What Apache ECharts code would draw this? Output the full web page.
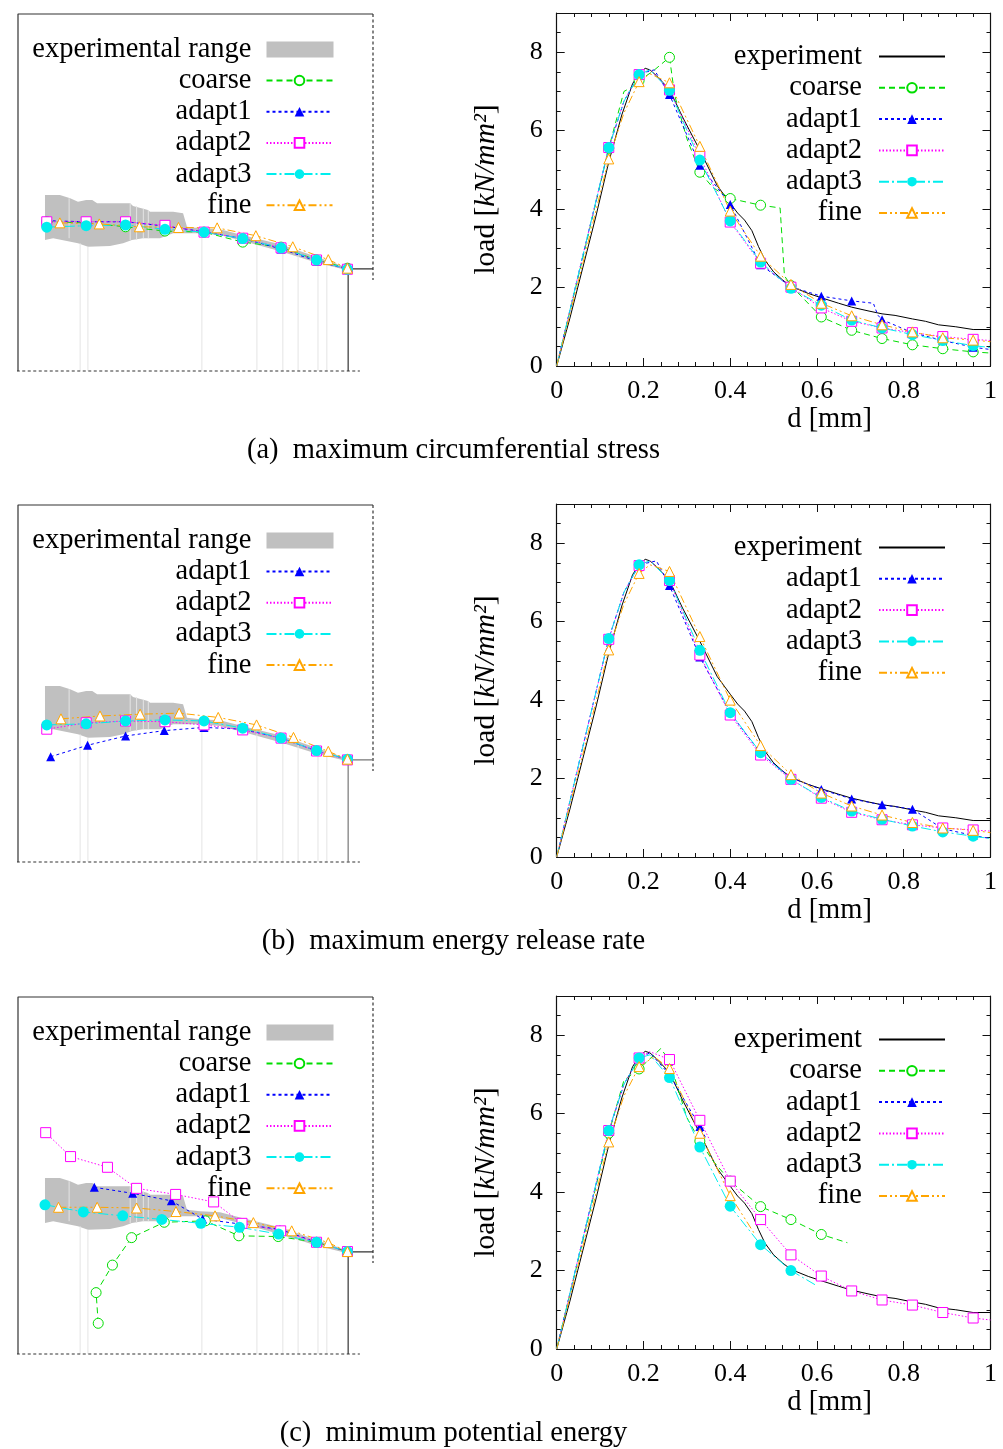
<!DOCTYPE html>
<html><head><meta charset="utf-8">
<script src="https://cdn.jsdelivr.net/npm/echarts@6/dist/echarts.min.js"></script>
<style>html,body{margin:0;padding:0;background:#fff}#c{width:1003px;height:1449px}</style>
</head><body><div id="c"></div><script>
// ---------------- DATA ----------------
// load-displacement: marker positions (d in mm)
const markD = [0.12,0.19,0.26,0.33,0.40,0.47,0.54,0.61,0.68,0.75,0.82,0.89,0.96];
const expD = [0,0.03,0.06,0.09,0.12,0.15,0.175,0.19,0.204,0.215,0.23,0.26,0.29,0.33,0.37,0.40,0.417,0.433,0.45,0.465,0.48,0.50,0.52,0.54,0.58,0.61,0.65,0.68,0.72,0.75,0.78,0.82,0.85,0.88,0.92,0.96,1.0];
const expLoad = [0,1.2,2.5,3.8,5.2,6.4,7.2,7.45,7.59,7.55,7.4,7.05,6.35,5.5,4.6,4.15,3.9,3.72,3.45,3.05,2.7,2.4,2.2,2.03,1.85,1.74,1.6,1.5,1.4,1.33,1.29,1.2,1.14,1.05,1.0,0.93,0.93];
const dStd = [0,0.06,0.12,0.155,0.19,0.215,0.26,0.33,0.40,0.47,0.54,0.61,0.68,0.75,0.82,0.89,0.96,1.0];
// (a)
const aCoarseD = [0,0.06,0.12,0.155,0.175,0.19,0.22,0.26,0.272,0.30,0.33,0.36,0.40,0.47,0.515,0.525,0.54,0.61,0.68,0.75,0.82,0.89,0.96,1.0];
const aCoarseLoad = [0,2.75,5.55,7.0,7.12,7.28,7.5,7.87,6.9,5.8,4.94,4.55,4.27,4.1,4.03,2.3,2.05,1.25,0.91,0.7,0.54,0.44,0.36,0.33];
const aAdapt1D = [0,0.06,0.12,0.155,0.19,0.225,0.26,0.33,0.40,0.47,0.54,0.61,0.68,0.73,0.74,0.75,0.82,0.89,0.96,1.0];
const aAdapt1Load = [0,2.8,5.55,6.75,7.45,7.55,6.92,5.12,4.12,2.58,2.02,1.78,1.66,1.6,1.3,1.18,0.85,0.65,0.48,0.42];
const aAdapt2Load = [0,2.8,5.57,6.75,7.43,7.55,7.04,5.35,3.67,2.62,2.01,1.48,1.14,0.97,0.85,0.75,0.68,0.65];
const aAdapt3Load = [0,2.8,5.57,6.75,7.43,7.55,7.03,5.25,3.7,2.65,1.98,1.55,1.17,0.97,0.8,0.65,0.52,0.47];
const aFineLoad = [0,2.6,5.28,6.45,7.25,7.45,7.22,5.6,3.95,2.8,2.08,1.6,1.28,1.05,0.87,0.72,0.66,0.62];
// (b)
const bAdapt1D = [0,0.06,0.12,0.155,0.19,0.23,0.26,0.33,0.40,0.47,0.54,0.61,0.68,0.75,0.82,0.89,0.96,1.0];
const bAdapt1Load = [0,2.8,5.57,6.75,7.45,7.55,6.92,5.1,3.67,2.65,2.02,1.72,1.48,1.33,1.22,0.72,0.55,0.47];
const bAdapt2Load = [0,2.8,5.55,6.75,7.43,7.55,7.05,5.15,3.62,2.6,1.98,1.5,1.14,0.95,0.82,0.74,0.69,0.66];
const bAdapt3Load = [0,2.8,5.57,6.75,7.45,7.55,7.05,5.27,3.68,2.66,1.98,1.52,1.17,0.96,0.79,0.64,0.53,0.47];
const bFineLoad = [0,2.6,5.28,6.45,7.23,7.45,7.28,5.62,4.0,2.84,2.1,1.63,1.3,1.07,0.88,0.74,0.68,0.62];
// (c)
const cCoarseD = [0,0.06,0.12,0.155,0.19,0.215,0.24,0.26,0.30,0.33,0.36,0.40,0.47,0.54,0.61,0.67];
const cCoarseLoad = [0,2.75,5.5,6.85,7.14,7.4,7.66,7.35,5.9,5.3,4.8,4.28,3.63,3.3,2.92,2.71];
const cAdapt1D = [0,0.06,0.12,0.155,0.19,0.215,0.26,0.33,0.345];
const cAdapt1Load = [0,2.8,5.55,6.75,7.42,7.55,7.0,5.67,5.35];
const cAdapt2Load = [0,2.8,5.57,6.75,7.42,7.58,7.38,5.83,4.28,3.3,2.4,1.86,1.48,1.25,1.12,0.93,0.79,0.74];
const cAdapt3D = [0,0.06,0.12,0.155,0.19,0.215,0.26,0.33,0.40,0.47,0.54,0.60];
const cAdapt3Load = [0,2.8,5.57,6.75,7.42,7.5,6.92,5.15,3.64,2.66,2.0,1.61];
const cFineD = [0,0.06,0.12,0.155,0.19,0.225,0.26,0.33,0.40,0.457];
const cFineLoad = [0,2.6,5.28,6.45,7.2,7.45,7.15,5.5,3.91,2.92];

// crack paths (specimen units, box 0..100 x 0..100)
const crackX = [8.1,19.2,30.3,41.4,52.4,63.3,74.1,84.1,92.8];
const aCrackFineX = [11.8,22.9,34.2,45.2,56.1,67.0,77.4,87.4,92.8];
const aCrackCoarseY = [41.8,41.5,40.4,39.2,38.9,36.1,34.7,31.1,28.8];
const aCrackAdapt1Y = [42.1,41.8,41.8,40.6,39.0,37.1,34.2,30.8,28.5];
const aCrackAdapt2Y = [41.8,41.8,41.8,40.8,38.9,37.2,34.5,31.1,28.5];
const aCrackAdapt3Y = [40.3,40.7,40.9,39.7,38.9,37.1,34.5,31.1,28.5];
const aCrackFineY = [41.5,41.2,40.4,40.2,40.1,37.9,34.8,31.2,28.8];
const bCrackAdapt1X = [9.2,19.6,30.3,41.2,52.4,63.3,74.1,84.1,92.8];
const bCrackAdapt1Y = [29.5,32.7,35.3,36.8,37.7,37.2,34.7,31.1,28.8];
const bCrackAdapt2Y = [37.2,39.0,39.5,39.3,38.4,37.0,34.7,31.1,28.6];
const bCrackAdapt3Y = [38.4,38.7,39.5,39.8,39.5,37.5,34.7,31.2,28.8];
const bCrackFineX = [12.1,23.1,34.4,45.4,56.4,67.2,77.6,87.4,92.8];
const bCrackFineY = [40.1,40.9,41.4,41.7,40.5,38.4,34.9,31.0,28.8];
const cCrackCoarseX = [22.6,22.0,26.6,32.0,41.2,52.8,62.2,73.3,84.1,92.8];
const cCrackCoarseY = [8.6,17.2,24.9,32.6,36.9,37.3,33.1,32.9,31.3,28.7];
const cCrackAdapt1X = [21.5,32.3,43.2,52.0,62.7,73.8,84.1,92.8];
const cCrackAdapt1Y = [46.7,45.0,42.9,37.8,36.4,34.9,31.3,28.7];
const cCrackAdapt2X = [7.8,14.8,25.2,33.4,44.4,55.1,63.1,74.0,84.1,92.8];
const cCrackAdapt2Y = [62.0,55.3,52.3,46.4,44.7,42.6,36.6,34.5,31.3,28.7];
const cCrackAdapt3X = [7.6,18.4,29.5,40.5,51.5,62.4,73.4,84.1,92.8];
const cCrackAdapt3Y = [41.8,39.8,38.7,37.7,36.6,35.5,33.6,31.3,28.7];
const cCrackFineX = [11.4,22.3,33.4,44.5,55.5,66.3,77.1,87.4,92.8];
const cCrackFineY = [41.1,41.1,40.9,39.9,38.7,36.8,34.5,31.2,28.7];

// experimental range band
const bandTopX = [7.6,11.8,14.7,16.9,19.2,20.9,22.3,31.6,32.4,36.6,37.2,43.7,46.5,47.6,51.3,56.9,63.4,74.1,84.2,92.8];
const bandTopY = [49.3,49.3,48.4,47.4,47.9,47.9,47.0,47.0,46.2,45.1,44.6,44.6,44.2,40.4,40.0,39.7,38.0,35.4,31.9,29.0];
const bandBotX = [92.8,84.2,74.1,63.4,56.9,51.3,43.7,40.0,35.2,32.1,29.6,25.9,19.7,16.9,9.9,7.6];
const bandBotY = [28.2,30.3,33.5,36.4,38.1,38.6,38.6,37.2,37.2,36.7,35.8,35.0,34.8,35.8,37.2,36.7];
const faintX = [14.4,17.5,19.7,31.6,33.4,35.3,36.7,51.8,67.3,74.6,78.9,84.5,87.0];
const faintLo = [37.2,0,0,36.7,36.7,37.2,37.2,0,0,0,0,0,0];
const faintHi = [48.4,35.8,34.8,47.0,46.2,45.5,45.1,38.6,37.0,34.2,33.0,31.0,30.4];

// specimen outline
const frameX = [0,0,100], frameY = [0,100,100];
const rightDotX = [100,100], rightDotY = [100,25.5];
const bottomDotX = [-5,96.3], bottomDotY = [0,0];
const notchX = [93,93,100], notchY = [0,28.6,28.6];

const captions = ['(a)  maximum circumferential stress','(b)  maximum energy release rate','(c)  minimum potential energy'];

// ---------------- LAYOUT / STYLE ----------------
const FONT = 'Liberation Serif';
const rowOff = [0, 491, 983];
const STY = {
  coarse: {color:'#00dd00', dash:[6,4], symbol:'circle', open:true, size:10},
  adapt1: {color:'#0000ff', dash:[3,3], symbol:'triangle', open:false, size:9},
  adapt2: {color:'#ff00ff', dash:[1.5,2], symbol:'rect', open:true, size:10},
  adapt3: {color:'#00eeee', dash:[10,3,2,3], symbol:'circle', open:false, size:11},
  fine:   {color:'#ffa500', dash:[8,3,2,3,2,3], symbol:'triangle', open:true, size:10}
};
const zip = (a,b) => a.map((v,i)=>[v,b[i]]);
const curve = (d,l) => d.map((x,i)=> markD.some(m=>Math.abs(m-x)<1e-9) ? [x,l[i]] : {value:[x,l[i]], symbol:'none'});

const grid=[], xAxis=[], yAxis=[], series=[], legend=[], graphic=[];
const tickStyle = {color:'#111', width:1};

function styledLine(name, data, xi, yi){
  const s = STY[name];
  return {type:'line', name, data, xAxisIndex:xi, yAxisIndex:yi, symbol:s.symbol, symbolSize:s.size,
    showSymbol:true, lineStyle:{color:s.color, width:1, type:s.dash},
    itemStyle: s.open ? {color:'#fff', borderColor:s.color, borderWidth:1} : {color:s.color, borderWidth:0},
    emphasis:{disabled:true}, silent:true, z:3, animation:false};
}
function plain(name, data, xi, yi, dash, color){
  return {type:'line', name, data, xAxisIndex:xi, yAxisIndex:yi, symbol:'none', clip:false, silent:true,
    lineStyle:{color:color||'#333', width:1.2, type:dash||'solid'}, z:2, animation:false};
}
const TXT = 28.5;
const legendText = {fontFamily:FONT, fontSize:TXT, color:'#000', lineHeight:28, padding:[0,10,0,0]};

const crackData = [
  {coarse:zip(crackX,aCrackCoarseY), adapt1:zip(crackX,aCrackAdapt1Y), adapt2:zip(crackX,aCrackAdapt2Y), adapt3:zip(crackX,aCrackAdapt3Y), fine:zip(aCrackFineX,aCrackFineY)},
  {adapt1:zip(bCrackAdapt1X,bCrackAdapt1Y), adapt2:zip(crackX,bCrackAdapt2Y), adapt3:zip(crackX,bCrackAdapt3Y), fine:zip(bCrackFineX,bCrackFineY)},
  {coarse:zip(cCrackCoarseX,cCrackCoarseY), adapt1:zip(cCrackAdapt1X,cCrackAdapt1Y), adapt2:zip(cCrackAdapt2X,cCrackAdapt2Y), adapt3:zip(cCrackAdapt3X,cCrackAdapt3Y), fine:zip(cCrackFineX,cCrackFineY)}
];
const loadData = [
  {coarse:curve(aCoarseD,aCoarseLoad), adapt1:curve(aAdapt1D,aAdapt1Load), adapt2:curve(dStd,aAdapt2Load), adapt3:curve(dStd,aAdapt3Load), fine:curve(dStd,aFineLoad)},
  {adapt1:curve(bAdapt1D,bAdapt1Load), adapt2:curve(dStd,bAdapt2Load), adapt3:curve(dStd,bAdapt3Load), fine:curve(dStd,bFineLoad)},
  {coarse:curve(cCoarseD,cCoarseLoad), adapt1:curve(cAdapt1D,cAdapt1Load), adapt2:curve(dStd,cAdapt2Load), adapt3:curve(cAdapt3D,cAdapt3Load), fine:curve(cFineD,cFineLoad)}
];

rowOff.forEach((off, r) => {
  // ----- left: crack path panel -----
  const gL = grid.length;
  grid.push({left:18, top:14+off, width:355, height:357});
  const xl = xAxis.length; xAxis.push({type:'value', gridIndex:gL, min:0, max:100, show:false});
  const yl = yAxis.length; yAxis.push({type:'value', gridIndex:gL, min:0, max:100, show:false});
  series.push({type:'custom', name:'experimental range', xAxisIndex:xl, yAxisIndex:yl, data:[[0,0]], silent:true, z:1,
    itemStyle:{color:'#c0c0c0'}, animation:false,
    renderItem:(p, api) => {
      const pts = zip(bandTopX,bandTopY).concat(zip(bandBotX,bandBotY)).map(q=>api.coord(q));
      return {type:'polygon', shape:{points:pts}, style:{fill:'#c0c0c0'}};
    }});
  series.push({type:'custom', name:'seams', xAxisIndex:xl, yAxisIndex:yl, silent:true, z:1, animation:false,
    data: faintX.map((x,i)=>[x, faintLo[i], faintHi[i]]),
    renderItem:(p, api) => {
      const a = api.coord([api.value(0), api.value(1)]), b = api.coord([api.value(0), api.value(2)]);
      return {type:'line', shape:{x1:a[0],y1:a[1],x2:b[0],y2:b[1]}, style:{stroke:'#e4e4e4', lineWidth:1}};
    }});
  series.push(plain('outline', zip(frameX,frameY), xl, yl));
  series.push(plain('outline2', zip(rightDotX,rightDotY), xl, yl, [3,2.5]));
  series.push(plain('outline3', zip(bottomDotX,bottomDotY), xl, yl, [3,2.5]));
  series.push(plain('notch', zip(notchX,notchY), xl, yl, 'solid', r===1?'#777':'#333'));
  const names = Object.keys(crackData[r]);
  names.forEach(n => series.push(styledLine(n, crackData[r][n], xl, yl)));
  legend.push({data:[{name:'experimental range', icon:'rect'}], orient:'vertical', align:'right', right:669.5, top:49+off-14,
    itemWidth:67, itemHeight:16, padding:0, selectedMode:false, textStyle:legendText});
  legend.push({data:names, orient:'vertical', align:'right', right:669.5, top:80+off-14, itemGap:2.2,
    itemWidth:66, itemHeight:12, padding:0, selectedMode:false, textStyle:legendText});

  // ----- right: load-displacement panel -----
  const gR = grid.length;
  grid.push({left:556.7, top:13+off, width:433.8, height:353});
  const axLine = {show:true, onZero:false, lineStyle:{color:'#111', width:1.2}};
  const xb = xAxis.length;
  xAxis.push({type:'value', gridIndex:gR, position:'bottom', min:0, max:1, interval:0.2,
    axisLine:axLine, axisTick:{show:true, inside:true, length:8, lineStyle:tickStyle},
    minorTick:{show:true, splitNumber:5, length:4, lineStyle:tickStyle}, splitLine:{show:false},
    axisLabel:{fontFamily:FONT, fontSize:26, color:'#000', margin:12},
    name:'d [mm]', nameLocation:'middle', nameGap:35,
    nameTextStyle:{fontFamily:FONT, fontSize:TXT, color:'#000', lineHeight:28, padding:[0,0,0,112]}});
  xAxis.push({type:'value', gridIndex:gR, position:'top', min:0, max:1, interval:0.2,
    axisLine:axLine, axisTick:{show:true, inside:true, length:8, lineStyle:tickStyle},
    minorTick:{show:true, splitNumber:5, length:4, lineStyle:tickStyle}, splitLine:{show:false}, axisLabel:{show:false}});
  const yb = yAxis.length;
  yAxis.push({type:'value', gridIndex:gR, position:'left', min:0, max:9, interval:2,
    axisLine:axLine, axisTick:{show:true, inside:true, length:8, lineStyle:tickStyle},
    minorTick:{show:true, splitNumber:4, length:4, lineStyle:tickStyle}, splitLine:{show:false},
    axisLabel:{fontFamily:FONT, fontSize:26, color:'#000', margin:14, formatter:v => v>8.5 ? '' : String(v)},
    name:'load [{i|kN/mm²}]', nameLocation:'middle', nameRotate:90, nameGap:56,
    nameTextStyle:{fontFamily:FONT, fontSize:29.5, color:'#000', lineHeight:28,
      rich:{i:{fontFamily:FONT, fontSize:29.5, fontStyle:'italic', color:'#000', lineHeight:28}}}});
  yAxis.push({type:'value', gridIndex:gR, position:'right', min:0, max:9, interval:2,
    axisLine:axLine, axisTick:{show:true, inside:true, length:8, lineStyle:tickStyle},
    minorTick:{show:true, splitNumber:4, length:4, lineStyle:tickStyle}, splitLine:{show:false}, axisLabel:{show:false}});
  series.push({type:'line', name:'experiment', data:zip(expD,expLoad), xAxisIndex:xb, yAxisIndex:yb,
    symbol:'line', showSymbol:false, lineStyle:{color:'#000', width:1}, itemStyle:{color:'#000'},
    silent:true, z:2, animation:false});
  const lnames = Object.keys(loadData[r]);
  lnames.forEach(n => series.push(styledLine(n, loadData[r][n], xb, yb)));
  legend.push({data:['experiment'].concat(lnames), orient:'vertical', align:'right', right:57, top:56+off-14, itemGap:2.3,
    itemWidth:66, itemHeight:12, padding:0, selectedMode:false, textStyle:Object.assign({}, legendText, {padding:[0,12,0,0]})});

  graphic.push({type:'text', x:453.5, y:451+off, silent:true,
    style:{text:captions[r], fill:'#000', font:TXT + 'px "Liberation Serif"', align:'center', verticalAlign:'middle', textAlign:'center', textVerticalAlign:'middle'}});
});

const chart = echarts.init(document.getElementById('c'), null, {renderer:'canvas'});
chart.setOption({animation:false, backgroundColor:'#fff', grid, xAxis, yAxis, series, legend, graphic});
</script></body></html>
